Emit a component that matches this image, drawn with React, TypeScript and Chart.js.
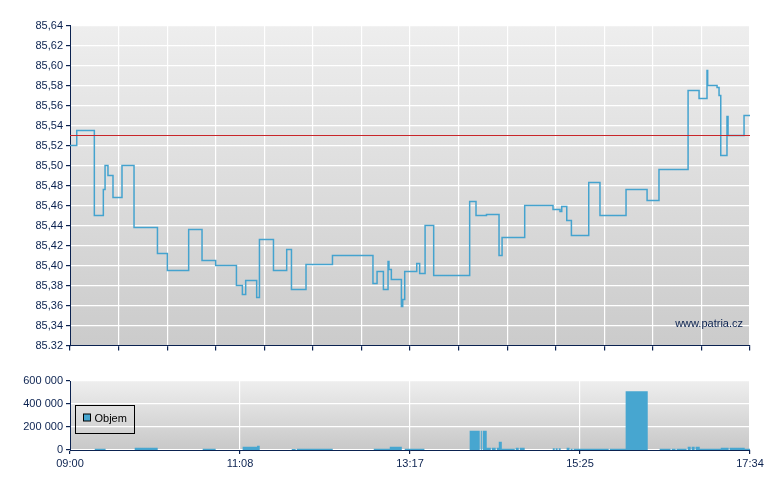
import React, { useEffect, useRef } from 'react';
import { Chart, registerables } from 'chart.js';

Chart.register(...registerables);

// ---- data ----
const SESSION_MINUTES = 514; // 09:00 .. 17:34

// price: time of change (minutes after 09:00) and new price
const priceTimes = [
  0, 5.1, 18.4, 25.2, 26.5, 28.7, 32.5, 39.3, 48.4, 66.1, 73.6, 89.7, 99.8, 110.1,
  125.8, 130.3, 132.8, 141.1, 143.2, 153.8, 163.8, 167.4, 178.4, 198.4, 229.0, 232.1,
  236.9, 240.4, 241.1, 242.9, 250.5, 251.5, 253.0, 262.1, 264.3, 268.4, 274.9, 302.1,
  306.9, 314.8, 324.3, 326.6, 343.7, 365.1, 370.4, 371.7, 375.5, 379.0, 392.1, 400.6,
  420.3, 436.2, 445.2, 467.2, 475.5, 481.5, 482.0, 489.1, 490.6, 491.9, 496.6, 497.4,
  509.5, 514,
];
const priceValues = [
  85.52, 85.535, 85.45, 85.476, 85.5, 85.49, 85.468, 85.5, 85.438, 85.412, 85.395, 85.436,
  85.405, 85.4, 85.38, 85.371, 85.385, 85.368, 85.426, 85.395, 85.416, 85.376, 85.401,
  85.41, 85.382, 85.394, 85.376, 85.404, 85.396, 85.386, 85.359, 85.366, 85.394, 85.402,
  85.392, 85.44, 85.39, 85.464, 85.45, 85.451, 85.41, 85.428, 85.46, 85.456, 85.454,
  85.459, 85.445, 85.43, 85.483, 85.45, 85.476, 85.465, 85.496, 85.575, 85.567, 85.595,
  85.58, 85.578, 85.57, 85.51, 85.549, 85.53, 85.55, 85.55,
];
const referencePrice = 85.53;
const priceTickLabels = [
  '85.32', '85,34', '85,36', '85,38', '85,40', '85,42', '85,44', '85,46', '85,48',
  '85,50', '85,52', '85,54', '85,56', '85,58', '85,60', '85,62', '85,64',
];
const priceMin = 85.32;
const priceStep = 0.02;

// volume blocks
const volumeStart = [
  18.7, 48.9, 100.3, 130.5, 141.4, 167.6, 171.4, 229.6, 241.7, 253.0, 302.1, 310.5, 312.0,
  315.0, 318.8, 322.6, 324.1, 326.4, 336.9, 340.0, 364.9, 367.1, 369.4, 375.4, 378.4,
  380.7, 408.0, 420.0, 445.7, 454.8, 458.5, 466.9, 469.9, 472.9, 476.0, 491.9, 498.6, 510.0,
];
const volumeEnd = [
  26.9, 66.3, 110.1, 141.4, 143.4, 170.6, 198.6, 241.7, 250.8, 267.9, 309.7, 311.3, 315.0,
  318.1, 321.8, 324.1, 326.4, 336.2, 339.2, 343.7, 366.4, 368.6, 370.9, 377.6, 379.9,
  407.2, 420.0, 436.7, 454.0, 457.8, 466.1, 469.2, 472.2, 476.0, 491.9, 497.9, 510.0, 514,
];
const volumeValues = [
  10000, 20000, 10000, 29000, 37000, 8000, 10000, 10000, 29000, 10000, 167000, 167000,
  167000, 20000, 20000, 20000, 72000, 10000, 20000, 20000, 15000, 15000, 15000, 20000,
  10000, 10000, 10000, 511000, 10000, 10000, 10000, 29000, 29000, 29000, 10000, 20000,
  20000, 10000,
];
const timeTickLabels = ['09:00', '11:08', '13:17', '15:25', '17:34'];
const volumeTickLabels = ['0', '200 000', '400 000', '600 000'];
const volumeStep = 200000;

// ---- styling ----
const NAVY = '#0b2250';
const LINE_BLUE = '#44a3cf';
const BAR_BLUE = '#47a6d0';
const FONT = "'Liberation Sans', Arial, sans-serif";

function gradientBg(top: string, bottom: string) {
  return {
    id: 'gradientBg',
    beforeDraw(chart: any) {
      const { ctx, chartArea: a } = chart;
      const g = ctx.createLinearGradient(0, a.top, 0, a.bottom);
      g.addColorStop(0, top);
      g.addColorStop(1, bottom);
      ctx.save();
      ctx.fillStyle = g;
      ctx.fillRect(a.left, a.top, a.right - a.left, a.bottom - a.top);
      ctx.restore();
    },
  };
}

const watermark = {
  id: 'watermark',
  afterDatasetsDraw(chart: any) {
    const { ctx, chartArea: a } = chart;
    ctx.save();
    ctx.font = `11px ${FONT}`;
    ctx.fillStyle = NAVY;
    ctx.textAlign = 'right';
    ctx.textBaseline = 'middle';
    ctx.fillText('www.patria.cz', a.right - 7, a.bottom - 22);
    ctx.restore();
  },
};

const boxLegend = {
  id: 'boxLegend',
  afterDatasetsDraw(chart: any) {
    const { ctx, chartArea: a } = chart;
    const ds = chart.data.datasets[0];
    const x = a.left + 5.5;
    const y = a.top + 24.5;
    ctx.save();
    ctx.strokeStyle = '#000';
    ctx.lineWidth = 1;
    ctx.strokeRect(x, y, 59, 28);
    ctx.fillStyle = ds.backgroundColor;
    ctx.fillRect(x + 8, y + 8.5, 7, 7);
    ctx.strokeRect(x + 8, y + 8.5, 7, 7);
    ctx.font = `11px ${FONT}`;
    ctx.fillStyle = '#000';
    ctx.textBaseline = 'middle';
    ctx.fillText(ds.label, x + 19, y + 13.5);
    ctx.restore();
  },
};

export default function App() {
  const topRef = useRef<HTMLCanvasElement>(null);
  const botRef = useRef<HTMLCanvasElement>(null);

  useEffect(() => {
    const priceData = priceTimes.map((t, i) => ({ x: t, y: priceValues[i] }));
    const refData = [
      { x: 0, y: referencePrice },
      { x: SESSION_MINUTES, y: referencePrice },
    ];

    const top = new Chart(topRef.current!, {
      type: 'line',
      data: {
        datasets: [
          {
            label: 'Reference',
            data: refData,
            borderColor: '#c8262a',
            borderWidth: 1,
            pointRadius: 0,
          },
          {
            label: 'Cena',
            data: priceData,
            stepped: true,
            borderColor: LINE_BLUE,
            borderWidth: 1.5,
            pointRadius: 0,
            fill: false,
          },
        ],
      },
      options: {
        animation: false,
        responsive: false,
        events: [],
        layout: { padding: { left: 0, right: 30, top: 25.5, bottom: 9.5 } },
        plugins: { legend: { display: false }, tooltip: { enabled: false } },
        scales: {
          x: {
            type: 'linear',
            min: 0,
            max: SESSION_MINUTES,
            afterBuildTicks: (s: any) => {
              s.ticks = Array.from({ length: 15 }, (_, i) => ({ value: (i * SESSION_MINUTES) / 14 }));
            },
            afterFit: (s: any) => {
              s.height = 5;
            },
            ticks: { display: false },
            grid: { color: '#ffffff', lineWidth: 1.2, tickColor: NAVY, tickLength: 5 },
            border: { color: NAVY, width: 1 },
          },
          y: {
            min: priceMin,
            max: priceMin + priceStep * (priceTickLabels.length - 1),
            afterBuildTicks: (s: any) => {
              s.ticks = priceTickLabels.map((_, i) => ({ value: priceMin + i * priceStep }));
            },
            afterFit: (s: any) => {
              s.width = 70;
            },
            ticks: {
              callback: (_v: any, i: number) => priceTickLabels[i],
              color: NAVY,
              font: { family: FONT, size: 11 },
              padding: 3,
            },
            grid: { color: '#ffffff', lineWidth: 1.2, tickColor: NAVY, tickLength: 4 },
            border: { color: NAVY, width: 1 },
          },
        },
      },
      plugins: [gradientBg('#eeeeee', '#cbcbcb'), watermark],
    });

    const volData: { x: number; y: number }[] = [{ x: 0, y: 0 }];
    volumeStart.forEach((s, i) => {
      volData.push({ x: s, y: volumeValues[i] });
      const next = volumeStart[i + 1];
      if (next === undefined || next > volumeEnd[i]) volData.push({ x: volumeEnd[i], y: 0 });
    });

    const bot = new Chart(botRef.current!, {
      type: 'line',
      data: {
        datasets: [
          {
            label: 'Objem',
            data: volData,
            stepped: true,
            fill: 'origin',
            backgroundColor: BAR_BLUE,
            borderColor: 'rgba(0,0,0,0)',
            borderWidth: 1,
            pointRadius: 0,
          },
        ],
      },
      options: {
        animation: false,
        responsive: false,
        events: [],
        layout: { padding: { left: 0, right: 30, top: 26, bottom: 15 } },
        plugins: { legend: { display: false }, tooltip: { enabled: false } },
        scales: {
          x: {
            type: 'linear',
            min: 0,
            max: SESSION_MINUTES,
            afterBuildTicks: (s: any) => {
              s.ticks = timeTickLabels.map((_, i) => ({
                value: (i * SESSION_MINUTES) / (timeTickLabels.length - 1),
              }));
            },
            afterFit: (s: any) => {
              s.height = 25;
            },
            ticks: {
              callback: (_v: any, i: number) => timeTickLabels[i],
              color: NAVY,
              font: { family: FONT, size: 11 },
              maxRotation: 0,
              autoSkip: false,
              padding: 3,
            },
            grid: { color: '#ffffff', lineWidth: 1.2, tickColor: NAVY, tickLength: 4 },
            border: { color: NAVY, width: 1 },
          },
          y: {
            min: 0,
            max: volumeStep * (volumeTickLabels.length - 1),
            afterBuildTicks: (s: any) => {
              s.ticks = volumeTickLabels.map((_, i) => ({ value: i * volumeStep }));
            },
            afterFit: (s: any) => {
              s.width = 70;
            },
            ticks: {
              callback: (_v: any, i: number) => volumeTickLabels[i],
              color: NAVY,
              font: { family: FONT, size: 11 },
              padding: 3,
            },
            grid: { color: '#ffffff', lineWidth: 1.2, tickColor: NAVY, tickLength: 4 },
            border: { color: NAVY, width: 1 },
          },
        },
      },
      plugins: [gradientBg('#eeeeee', '#c8c8c8'), boxLegend],
    });

    return () => {
      top.destroy();
      bot.destroy();
    };
  }, []);

  return (
    <div style={{ position: 'fixed', left: 0, top: 0, width: 780, height: 490, background: '#fff' }}>
      <canvas ref={topRef} width={780} height={360} style={{ position: 'absolute', left: 0, top: 0 }} />
      <canvas ref={botRef} width={780} height={135} style={{ position: 'absolute', left: 0, top: 355 }} />
    </div>
  );
}
